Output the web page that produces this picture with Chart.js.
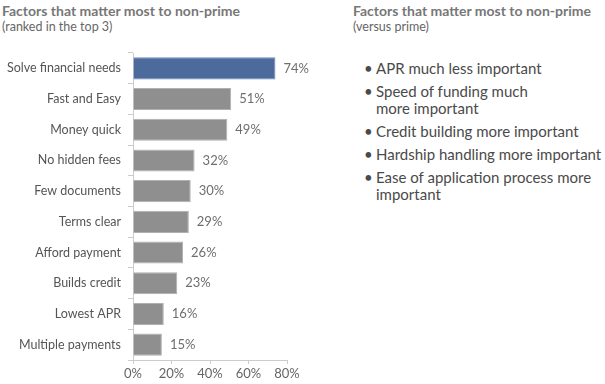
<!DOCTYPE html>
<html>
<head>
<meta charset="utf-8">
<script src="https://cdn.jsdelivr.net/npm/chart.js@4"></script>
<style>
  body { margin: 0; background: #fff; font-family: Lato, "Open Sans", sans-serif; color: #555; }
  #wrap { position: relative; width: 605px; height: 384px; overflow: hidden; }
  #chartBox { position: absolute; left: 0; top: 0; width: 340px; height: 384px; }
  .title { position: absolute; font-size: 14px; font-weight: bold; color: #777; white-space: nowrap; }
  .sub { position: absolute; font-size: 12.5px; color: #666; white-space: nowrap; }
  #notes { position: absolute; left: 360px; top: 60px; margin: 0; padding: 0; list-style: none; font-size: 15px; color: #4a4a4a; }
  #notes li { position: relative; padding-left: 16px; line-height: 17px; margin-bottom: 6px; white-space: pre-line; }
  #notes li::before { content: "\2022"; position: absolute; left: 4px; top: 0; }
</style>
</head>
<body>
<div id="wrap">
  <div class="title" style="left:2px; top:2px;">Factors that matter most to non-prime</div>
  <div class="sub" style="left:2px; top:19px;">(ranked in the top 3)</div>
  <div class="title" style="left:353px; top:2px;">Factors that matter most to non-prime</div>
  <div class="sub" style="left:353px; top:19px;">(versus prime)</div>
  <div id="chartBox"><canvas id="factorChart"></canvas></div>
  <ul id="notes"></ul>
</div>
<script>
const factors = ['Solve financial needs', 'Fast and Easy', 'Money quick', 'No hidden fees', 'Few documents',
  'Terms clear', 'Afford payment', 'Builds credit', 'Lowest APR', 'Multiple payments']
const shares = [74, 51, 49, 32, 30, 29, 26, 23, 16, 15]
const xTicks = [0, 20, 40, 60, 80]
const notes = ['APR much less important', 'Speed of funding much\nmore important', 'Credit building more important',
  'Hardship handling more important', 'Ease of application process more\nimportant']

const noteList = document.getElementById('notes')
notes.forEach(n => {
  const li = document.createElement('li')
  li.textContent = n
  noteList.appendChild(li)
})

// value labels at the end of each bar
const valueLabels = {
  id: 'valueLabels',
  afterDatasetsDraw(chart) {
    const ctx = chart.ctx
    const meta = chart.getDatasetMeta(0)
    ctx.save()
    ctx.font = '13px Lato'
    ctx.fillStyle = '#6e6e6e'
    ctx.textBaseline = 'middle'
    meta.data.forEach((bar, i) => {
      ctx.fillText(shares[i] + '%', bar.x + 8, bar.y)
    })
    ctx.restore()
  }
}

new Chart(document.getElementById('factorChart'), {
  type: 'bar',
  data: {
    labels: factors,
    datasets: [{
      data: shares,
      backgroundColor: shares.map((v, i) => i === 0 ? '#4c6a9c' : '#8f8f8f'),
      borderColor: shares.map((v, i) => i === 0 ? '#6f89b3' : '#b0b0b0'),
      borderWidth: 1,
      borderSkipped: 'start',
      barPercentage: 0.9,
      categoryPercentage: 0.8
    }]
  },
  options: {
    indexAxis: 'y',
    responsive: true,
    maintainAspectRatio: false,
    animation: false,
    layout: { padding: { top: 53, right: 53, left: 0, bottom: 0 } },
    plugins: { legend: { display: false }, tooltip: { enabled: false } },
    scales: {
      x: {
        min: 0,
        max: 80,
        afterBuildTicks: s => { s.ticks = xTicks.map(v => ({ value: v })) },
        afterFit: s => { s.height = 24 },
        border: { color: '#ccc' },
        grid: { drawOnChartArea: false, drawTicks: true, tickLength: 4, color: '#ccc' },
        ticks: { color: '#666', font: { family: 'Lato', size: 13 }, padding: 2, callback: v => v + '%' }
      },
      y: {
        afterFit: s => { s.width = 133 },
        border: { color: '#ccc' },
        grid: { drawOnChartArea: false, drawTicks: true, tickLength: 5, color: '#ccc', offset: true },
        ticks: { color: '#555', font: { family: 'Lato', size: 12.5 }, padding: 7 }
      }
    }
  },
  plugins: [valueLabels]
})
</script>
</body>
</html>
